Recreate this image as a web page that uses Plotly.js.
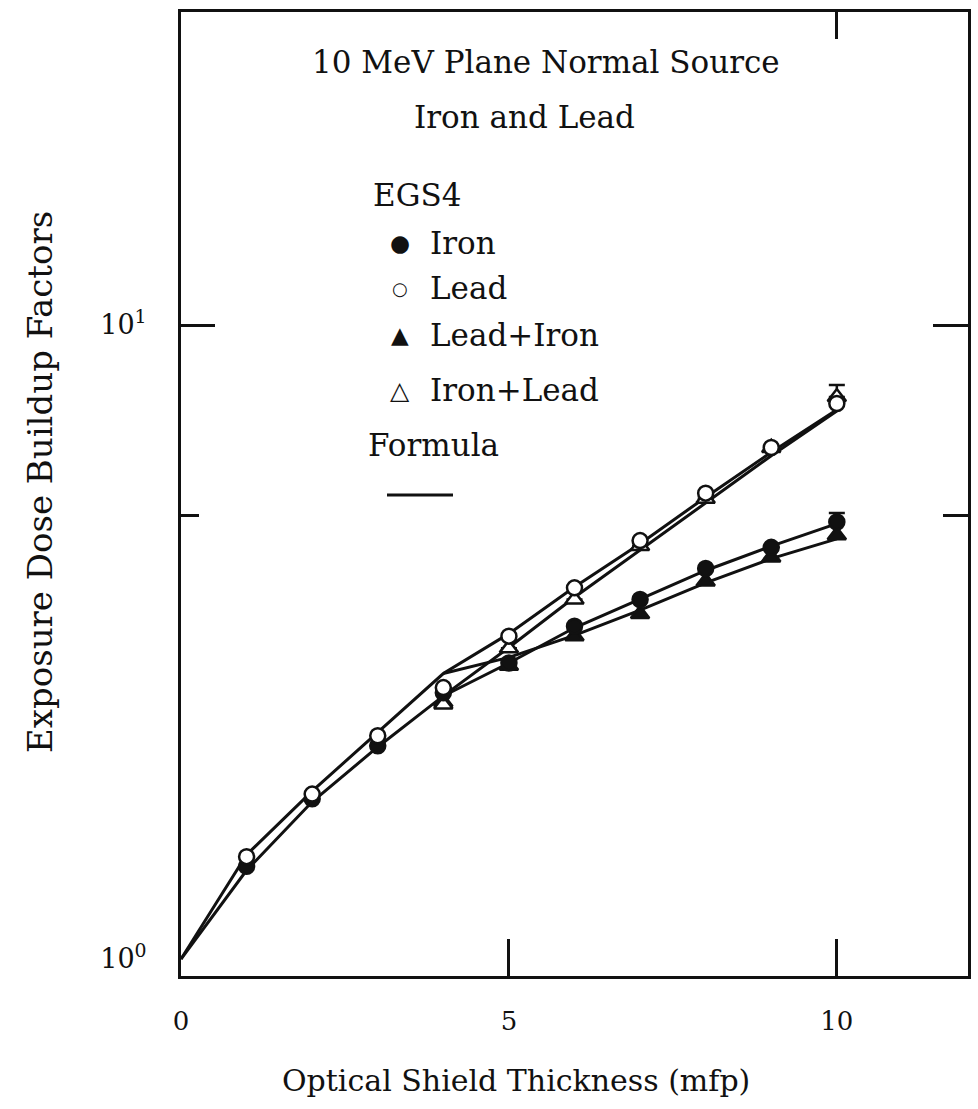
<!DOCTYPE html>
<html>
<head>
<meta charset="utf-8">
<script src="https://cdn.plot.ly/plotly-3.0.1.min.js"></script>
<style>html,body{margin:0;padding:0;background:#fff;}</style>
</head>
<body>
<div id="chart" style="width:978px;height:1109px;"></div>
<script>
// EGS4 results, single-material shields (mfp)
const thicknessSingle = [1, 2, 3, 4, 5, 6, 7, 8, 9, 10];
const ironEgs4 = [1.40, 1.79, 2.17, 2.63, 2.93, 3.35, 3.69, 4.13, 4.46, 4.89];
const leadEgs4 = [1.45, 1.82, 2.25, 2.68, 3.23, 3.85, 4.57, 5.43, 6.41, 7.52];
const ironErrUp = [null, null, null, null, null, null, null, null, null, 0.16];

// EGS4 results, two-layer shields (mfp)
const thicknessLayered = [4, 5, 6, 7, 8, 9, 10];
const leadIronEgs4 = [2.54, 2.90, 3.23, 3.50, 3.94, 4.30, 4.66];
const ironLeadEgs4 = [2.52, 3.09, 3.69, 4.48, 5.32, 6.40, 7.70];
const ironLeadErrUp = [null, null, null, null, null, null, 0.34];

// Buildup formula curves
const thicknessFormula = [0, 1, 2, 3, 4, 5, 6, 7, 8, 9, 10];
const leadFormula = [1.00, 1.46, 1.84, 2.28, 2.82, 3.26, 3.86, 4.52, 5.35, 6.30, 7.35];
const ironFormula = [1.00, 1.38, 1.77, 2.16, 2.60, 2.93, 3.33, 3.70, 4.10, 4.48, 4.86];
const thicknessLayeredFormula = [4, 5, 6, 7, 8, 9, 10];
const leadIronFormula = [2.82, 2.99, 3.24, 3.55, 3.92, 4.28, 4.60];
const ironLeadFormula = [2.60, 3.10, 3.72, 4.42, 5.25, 6.22, 7.32];

// Axis ticks
const xTickVals = [0, 5, 10];
const xTickText = ['0', '5', '10'];
const yTickVals = [1, 10];
const yTickText = ['10<sup>0</sup>', '10<sup>1</sup>'];

// Text
const titleLines = ['10 MeV Plane Normal Source', 'Iron and Lead'];
const legendHeader = 'EGS4';
const legendNames = ['Iron', 'Lead', 'Lead+Iron', 'Iron+Lead'];
const legendSymbols = ['\u25CF', '\u25CB', '\u25B2', '\u25B3'];
const formulaLabel = 'Formula';
const xTitle = 'Optical Shield Thickness (mfp)';
const yTitle = 'Exposure Dose Buildup Factors';

const FONT = 'DejaVu Serif, Liberation Serif, serif';
const INK = '#111';

// plot-area geometry (pixels)
const W = 978, H = 1109;
const M = {l: 181, r: 10, t: 12, b: 133};
const PW = W - M.l - M.r, PH = H - M.t - M.b;
const px = X => (X - M.l) / PW;
const py = Y => (H - M.b - Y) / PH;

const xRange = [0, 12];
const yRange = [-0.0268, 1.4937];

function formulaTrace(x, y) {
  return {x: x, y: y, type: 'scatter', mode: 'lines', showlegend: false,
          hoverinfo: 'skip', line: {color: INK, width: 3}};
}
function markTrace(x, y, symbol, fill, size, err) {
  const t = {x: x, y: y, type: 'scatter', mode: 'markers', showlegend: false,
             marker: {symbol: symbol, size: size, color: fill,
                      line: {color: INK, width: 2.5}}};
  if (err) {
    t.error_y = {type: 'data', symmetric: false, array: err,
                 arrayminus: err.map(v => v === null ? null : 0),
                 color: INK, thickness: 2.5, width: 8};
  }
  return t;
}

const traces = [
  formulaTrace(thicknessFormula, leadFormula),
  formulaTrace(thicknessFormula, ironFormula),
  formulaTrace(thicknessLayeredFormula, leadIronFormula),
  formulaTrace(thicknessLayeredFormula, ironLeadFormula),
  markTrace(thicknessLayered, leadIronEgs4, 'triangle-up', INK, 16),
  markTrace(thicknessLayered, ironLeadEgs4, 'triangle-up', '#fff', 16, ironLeadErrUp),
  markTrace(thicknessSingle, ironEgs4, 'circle', INK, 15, ironErrUp),
  markTrace(thicknessSingle, leadEgs4, 'circle', '#fff', 15),
  // carriers for the tick-only overlay axes
  {x: [0], y: [1], xaxis: 'x2', yaxis: 'y2', type: 'scatter', mode: 'markers',
   marker: {opacity: 0}, showlegend: false, hoverinfo: 'skip'},
  {x: [0], y: [1], xaxis: 'x', yaxis: 'y3', type: 'scatter', mode: 'markers',
   marker: {opacity: 0}, showlegend: false, hoverinfo: 'skip'}
];

const annotations = [];
function label(text, X, Y, size, anchor, angle) {
  annotations.push({text: text, xref: 'paper', yref: 'paper', x: px(X), y: py(Y),
                    xanchor: anchor || 'left', yanchor: 'middle', showarrow: false,
                    textangle: angle || 0,
                    font: {family: FONT, size: size, color: INK}});
}
label(titleLines[0], 546, 62, 31, 'center');
label(titleLines[1], 524, 117, 31, 'center');
label(legendHeader, 371, 195, 31);
const legendRows = [243, 288, 335, 390];
const symbolSizes = [23, 18, 23, 25];
legendNames.forEach((name, i) => {
  label(legendSymbols[i], 400, legendRows[i], symbolSizes[i], 'center');
  label(name, 428, legendRows[i], 31);
});
label(formulaLabel, 366, 445, 31);
label(xTitle, 516, 1080, 30, 'center');
label(yTitle, 40, 482, 34, 'center', -90);

const layout = {
  width: W, height: H,
  margin: M,
  paper_bgcolor: '#fff', plot_bgcolor: '#fff',
  showlegend: false,
  font: {family: FONT, color: INK},
  xaxis: {
    range: xRange, tickmode: 'array', tickvals: xTickVals, ticktext: xTickText,
    ticks: 'inside', ticklen: 37, tickwidth: 3, tickcolor: INK,
    showline: true, linewidth: 3, linecolor: INK, mirror: true,
    showgrid: false, zeroline: false,
    tickfont: {family: FONT, size: 26, color: INK}, ticklabelstandoff: 20
  },
  yaxis: {
    type: 'log', range: yRange, tickmode: 'array', tickvals: yTickVals, ticktext: yTickText,
    ticks: '', showline: true, linewidth: 3, linecolor: INK, mirror: true,
    showgrid: false, zeroline: false,
    tickfont: {family: FONT, size: 27, color: INK}, ticklabelstandoff: 26
  },
  // top ticks
  xaxis2: {
    overlaying: 'x', side: 'top', anchor: 'y2', range: xRange,
    tickmode: 'array', tickvals: [10], ticks: 'inside', ticklen: 27, tickwidth: 3,
    tickcolor: INK, showticklabels: false, showline: false, showgrid: false, zeroline: false
  },
  // left ticks
  yaxis2: {
    overlaying: 'y', side: 'left', anchor: 'x2', type: 'log', range: yRange,
    tickmode: 'array', tickvals: [10], ticks: 'inside', ticklen: 34, tickwidth: 3,
    tickcolor: INK, showticklabels: false, showline: false, showgrid: false, zeroline: false,
    minor: {tickmode: 'array', tickvals: [5], ticks: 'inside', ticklen: 18, tickwidth: 3,
            tickcolor: INK, showgrid: false}
  },
  // right ticks
  yaxis3: {
    overlaying: 'y', side: 'right', anchor: 'x', type: 'log', range: yRange,
    tickmode: 'array', tickvals: [10], ticks: 'inside', ticklen: 35, tickwidth: 3,
    tickcolor: INK, showticklabels: false, showline: false, showgrid: false, zeroline: false,
    minor: {tickmode: 'array', tickvals: [5], ticks: 'inside', ticklen: 25, tickwidth: 3,
            tickcolor: INK, showgrid: false}
  },
  annotations: annotations,
  shapes: [{type: 'line', xref: 'paper', yref: 'paper',
            x0: px(387), x1: px(453), y0: py(495), y1: py(495),
            line: {color: INK, width: 3}}]
};

Plotly.newPlot('chart', traces, layout, {staticPlot: true, displayModeBar: false});
</script>
</body>
</html>
